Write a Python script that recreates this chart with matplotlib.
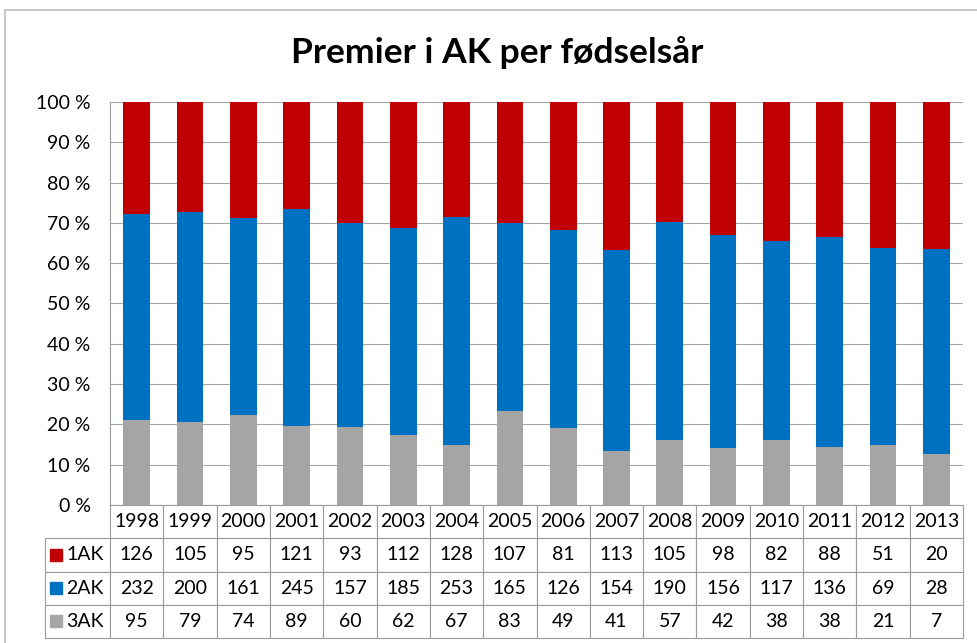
import matplotlib.pyplot as plt
import numpy as np
from matplotlib.patches import Rectangle
from matplotlib.table import Table

plt.rcParams['font.family'] = ['Lato', 'DejaVu Sans']

# data
aar = ["1998", "1999", "2000", "2001", "2002", "2003", "2004", "2005",
       "2006", "2007", "2008", "2009", "2010", "2011", "2012", "2013"]
ak1 = [126, 105, 95, 121, 93, 112, 128, 107, 81, 113, 105, 98, 82, 88, 51, 20]
ak2 = [232, 200, 161, 245, 157, 185, 253, 165, 126, 154, 190, 156, 117, 136, 69, 28]
ak3 = [95, 79, 74, 89, 60, 62, 67, 83, 49, 41, 57, 42, 38, 38, 21, 7]
serier = ["1AK", "2AK", "3AK"]
farger = ["#C00000", "#0070C0", "#A5A5A5"]

fig = plt.figure(figsize=(9.78, 6.43), dpi=100)
ax = fig.add_axes([0.1125, 0.2146, 0.8722, 0.6268])

# prosentandeler
tot = np.array(ak1) + np.array(ak2) + np.array(ak3)
p1 = np.array(ak1) / tot * 100
p2 = np.array(ak2) / tot * 100
p3 = np.array(ak3) / tot * 100

x = np.arange(len(aar))
ax.bar(x, p3, 0.5, color=farger[2], zorder=3)
ax.bar(x, p2, 0.5, bottom=p3, color=farger[1], zorder=3)
ax.bar(x, p1, 0.5, bottom=p3 + p2, color=farger[0], zorder=3)

ax.set_xlim(-0.5, len(aar) - 0.5)
ax.set_ylim(0, 100)
ax.set_yticks(range(0, 101, 10))
ax.set_yticklabels([f"{v} %" for v in range(0, 101, 10)])
ax.set_xticks([])
ax.tick_params(axis='y', length=0, pad=14, labelsize=14)
ax.yaxis.grid(True, color='#a6a6a6', lw=0.8)
ax.set_axisbelow(True)
for s in ["top", "right", "bottom"]:
    ax.spines[s].set_visible(False)
ax.spines["left"].set_color('#9a9a9a')

# datatabell under grafen
rader = [[""] + aar] + [[s] + [str(v) for v in d] for s, d in zip(serier, [ak1, ak2, ak3])]
bw = 65 / 853
th = 0.330
cw = [bw] + [1 / len(aar)] * len(aar)
tab = Table(ax, bbox=[-bw, -th, 1 + bw, th])
for r, rad in enumerate(rader):
    for c, tekst in enumerate(rad):
        loc = 'right' if c == 0 else 'center'
        cell = tab.add_cell(r, c, width=cw[c], height=1, text=tekst, loc=loc,
                            edgecolor='#9a9a9a', facecolor='white')
        cell.set_linewidth(0.8)
        if r == 0 and c == 0:
            cell.visible_edges = ''
tab.auto_set_font_size(False)
tab.set_fontsize(14)
ax.add_table(tab)

# fargeruter for seriene
for i, f in enumerate(farger):
    yc = -(i + 1.5) * th / 4
    ax.plot(-0.0635, yc, marker='s', ms=8, color=f, transform=ax.transAxes, clip_on=False)

fig.text(0.508, (643 - 53) / 643, "Premier i AK per fødselsår", ha='center', va='center',
         fontsize=25.5, fontweight='bold')

fig.add_artist(Rectangle((5 / 978, -0.02), 1.0, (643 - 10) / 643 + 0.02, transform=fig.transFigure,
                         fill=False, edgecolor='#bfbfbf', lw=1.2))

plt.savefig("out.png", dpi=100)
